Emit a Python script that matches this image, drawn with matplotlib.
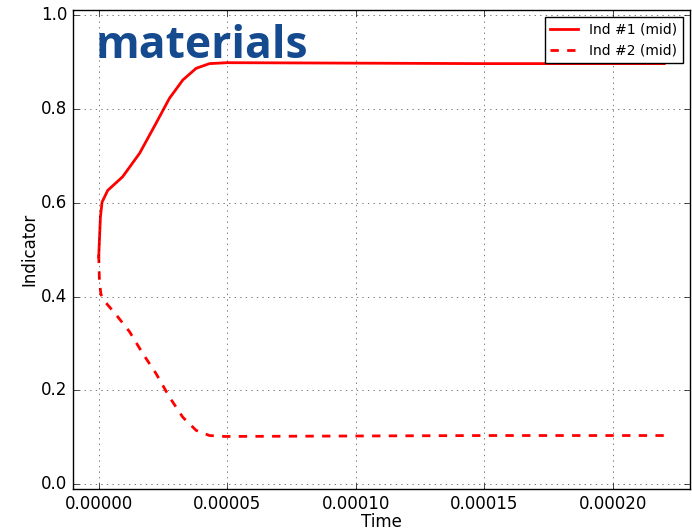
import matplotlib
matplotlib.use('Agg')
import matplotlib.pyplot as plt

# indicator values at mid position over time
time_1 = [0.0, 0.00000066, 0.0000013, 0.0000035, 0.0000055, 0.0000093,
          0.0000159, 0.0000223, 0.0000275, 0.0000327, 0.0000379, 0.0000431,
          0.00005, 0.0001, 0.00015, 0.00022]
ind_1 = [0.484, 0.569, 0.601, 0.626, 0.636, 0.655,
         0.705, 0.769, 0.822, 0.861, 0.886, 0.896,
         0.898, 0.897, 0.896, 0.896]

time_2 = [0.0, 0.0000003, 0.0000009, 0.0000029, 0.0000068, 0.000012,
          0.0000171, 0.0000223, 0.0000275, 0.0000327, 0.0000379, 0.0000431,
          0.000049, 0.0001, 0.00015, 0.00022]
ind_2 = [0.489, 0.429, 0.404, 0.386, 0.361, 0.325,
         0.279, 0.236, 0.186, 0.143, 0.115, 0.104,
         0.102, 0.103, 0.104, 0.104]

plt.style.use('classic')
fig = plt.figure(figsize=(6.92, 5.31), dpi=100, facecolor='white')
ax = fig.add_axes([0.1055, 0.079, 0.8915, 0.902])

ax.plot(time_1, ind_1, color='red', lw=2, label='Ind #1 (mid)')
ax.plot(time_2, ind_2, color='red', lw=2, ls='--', label='Ind #2 (mid)')

ax.set_xlim(-0.00001, 0.00023)
ax.set_ylim(-0.01, 1.01)
ax.set_xticks([0.0, 0.00005, 0.0001, 0.00015, 0.0002])
ax.set_xticklabels(['0.00000', '0.00005', '0.00010', '0.00015', '0.00020'])
ax.set_yticks([0.0, 0.2, 0.4, 0.6, 0.8, 1.0])
ax.tick_params(labelsize=12)
ax.grid(True, color='black', ls=':', lw=0.6, alpha=0.6)
ax.set_xlabel('Time', fontsize=12, labelpad=0)
ax.set_ylabel('Indicator', fontsize=12, labelpad=2)

leg = ax.legend(loc='upper right', fontsize=10, handlelength=2.0,
                borderaxespad=0.5, numpoints=1)
leg.get_frame().set_linewidth(1.0)

# logo text
ax.text(0.037, 0.925, 'materials', transform=ax.transAxes, fontsize=32,
        fontweight='bold', color='#154a8f', family='Open Sans',
        va='center', ha='left')

fig.savefig('out.png', dpi=100, facecolor='white')
